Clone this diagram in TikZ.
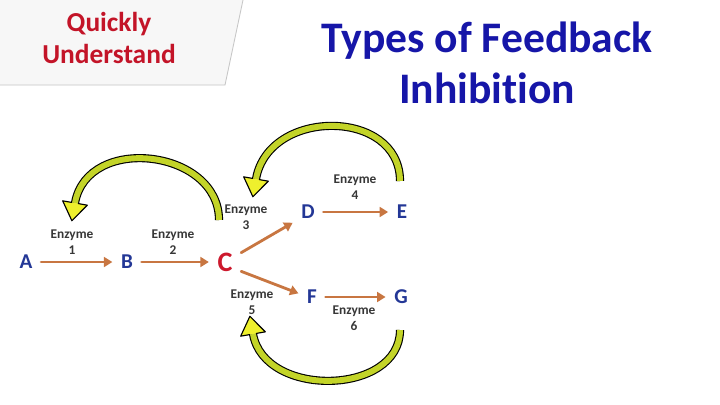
\documentclass[tikz,border=0pt]{standalone}
\usepackage{fontspec}
\setmainfont{Carlito}[Ligatures=NoCommon]
\usetikzlibrary{arrows.meta}
\definecolor{titleblue}{RGB}{22,22,168}
\definecolor{quickred}{RGB}{195,20,40}
\definecolor{letterblue}{RGB}{35,55,150}
\definecolor{cred}{RGB}{205,25,45}
\definecolor{rxnorange}{RGB}{200,118,65}
\definecolor{enzgray}{RGB}{55,55,55}
\definecolor{fbgreen}{RGB}{195,212,40}
\definecolor{fbyellow}{RGB}{238,240,45}

\begin{document}
\begin{tikzpicture}[x=0.025cm,y=0.025cm,line cap=round,
  met/.style={font=\bfseries\fontsize{15}{18}\selectfont,text=letterblue,inner sep=6pt},
  rxn/.style={draw=rxnorange,line width=2pt,-{Triangle[length=6pt,width=7pt]}},
  enz/.style={font=\bfseries\fontsize{9.5}{11.3}\selectfont,text=enzgray,align=center,inner sep=0pt},
  fb/.style={draw=black,line width=0.8pt,double=fbgreen,double distance=4.2pt,line cap=butt},
  fbtip/.pic={\fill[fbyellow] (0,12.5) -- (18,0) -- (0,-12.5) -- cycle;
    \draw[line width=0.8pt,line join=round] (0,3.4) -- (0,12.5) -- (18,0) -- (0,-12.5) -- (0,-3.4);}]
\useasboundingbox (0,0) rectangle (720,404);
\fill[white] (0,0) rectangle (720,404);
% tag in the corner
\fill[gray!6] (0,404) -- (243,404) -- (225,319) -- (0,319) -- cycle;
\draw[gray!45,line width=0.6pt] (243,404) -- (225,319) -- (0,319);
\node[anchor=base,text=quickred,font=\bfseries\fontsize{19.5}{22}\selectfont] (quick) at (109,373) {Quickly};
\node[anchor=base,text=quickred,font=\bfseries\fontsize{19.5}{22}\selectfont] (under) at (109,341) {Understand};
\node[anchor=base,text=titleblue,font=\bfseries\fontsize{31}{36}\selectfont] (title1) at (487,352) {Types of Feedback};
\node[anchor=base,text=titleblue,font=\bfseries\fontsize{31}{36}\selectfont] (title2) at (487,301) {Inhibition};
% pathway
\node[met] (A) at (26,142) {A};
\node[met] (B) at (127,142) {B};
\node[met,text=cred,font=\bfseries\fontsize{20}{24}\selectfont] (C) at (225,142) {C};
\node[met] (D) at (308,192) {D};
\node[met] (E) at (402,192) {E};
\node[met] (F) at (312,107) {F};
\node[met] (G) at (401,107) {G};
\node[enz] (e1) at (72,162) {Enzyme\\1};
\node[enz] (e2) at (173,162) {Enzyme\\2};
\node[enz] (e3) at (246,187) {Enzyme\\3};
\node[enz] (e4) at (355,217) {Enzyme\\4};
\node[enz] (e5) at (252,102) {Enzyme\\5};
\node[enz] (e6) at (354,86) {Enzyme\\6};
\draw[rxn] (A) -- (B);
\draw[rxn] (B) -- (C);
\draw[rxn] (C.30) -- (D.215);
\draw[rxn] (C.-30) -- (F.165);
\draw[rxn] (D) -- (E);
\draw[rxn] (F) -- (G);
% feedback arrows
\coordinate (fbAs) at (219,184);
\coordinate (fbAe) at (75,201);
\coordinate (fbBs) at (400,223);
\coordinate (fbBe) at (256,225);
\coordinate (fbCs) at (400,74);
\coordinate (fbCe) at (253,70);
\draw[fb] (fbAs) to[out=90,in=80,looseness=1.25] (fbAe);
\pic[rotate=-100] at (fbAe) {fbtip};
\draw[fb] (fbBs) to[out=90,in=80,looseness=1.29] (fbBe);
\pic[rotate=-100] at (fbBe) {fbtip};
\draw[fb] (fbCs) to[out=-90,in=-80,looseness=1.14] (fbCe);
\pic[rotate=100] at (fbCe) {fbtip};
\end{tikzpicture}
\end{document}
